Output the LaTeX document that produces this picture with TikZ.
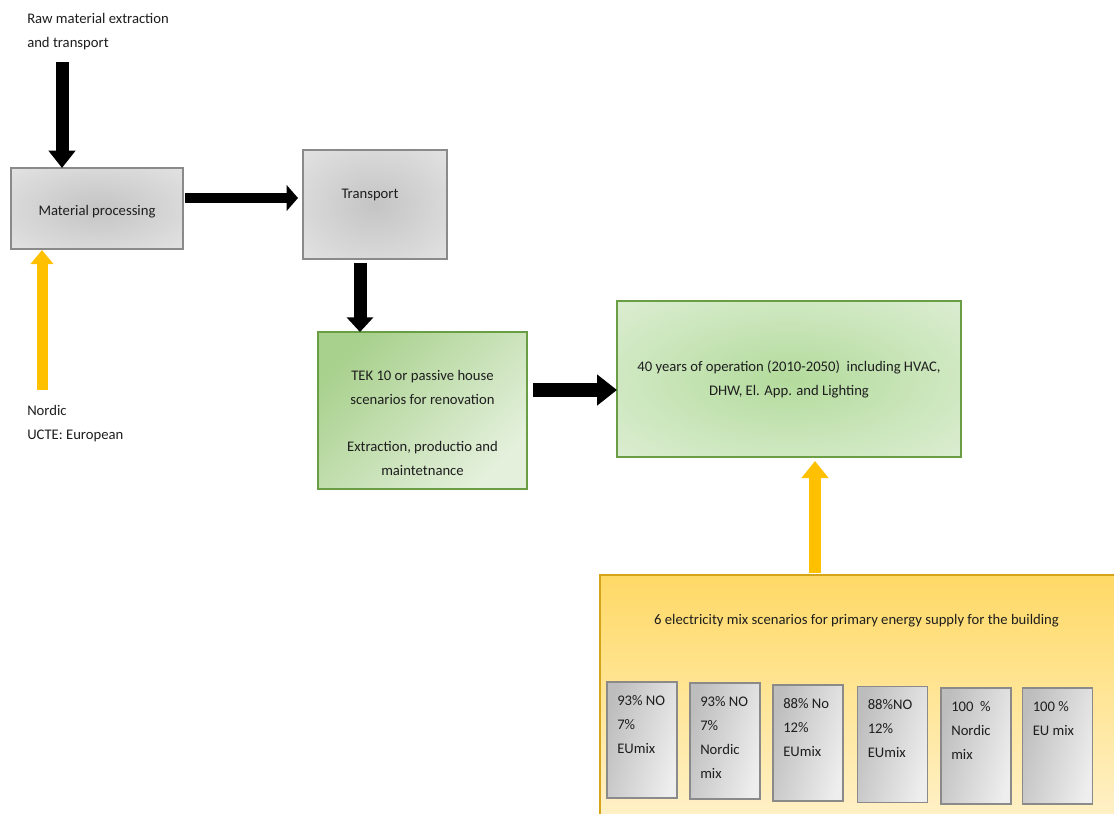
\documentclass[tikz,border=0pt]{standalone}
\usepackage{fontspec}
\setmainfont{Carlito}
\usetikzlibrary{arrows.meta}
\definecolor{grayedge}{HTML}{8A8A8A}
\definecolor{grayin}{HTML}{C4C4C4}
\definecolor{grayout}{HTML}{EBEBEB}
\definecolor{greenedge}{HTML}{6A9E45}
\definecolor{tekA}{HTML}{A9D18E}
\definecolor{tekB}{HTML}{E4F0DC}
\definecolor{opin}{HTML}{B3DB9C}
\definecolor{opout}{HTML}{E8F3E2}
\definecolor{yeledge}{HTML}{D6A418}
\definecolor{yeltop}{HTML}{FFD966}
\definecolor{yelbot}{HTML}{FFF2CC}
\definecolor{smallA}{HTML}{BDBDBD}
\definecolor{smallB}{HTML}{EEEEEE}
\definecolor{amber}{HTML}{FFC000}
\definecolor{txt}{HTML}{1E1E1E}
\pgfdeclareradialshading{grayrad}{\pgfpoint{0bp}{0bp}}{color(0bp)=(grayin); color(46bp)=(grayout); color(50bp)=(grayout)}
\pgfdeclareradialshading{greenrad}{\pgfpoint{0bp}{0bp}}{color(0bp)=(opin); color(46bp)=(opout); color(50bp)=(opout)}
\tikzset{
  box/.style={draw, inner sep=0pt, outer sep=0pt, line width=0.9pt},
  graybox/.style={box, draw=grayedge, shade, shading=grayrad},
  tekbox/.style={box, draw=greenedge, top color=tekA, bottom color=tekB, shading angle=45},
  opbox/.style={box, draw=greenedge, shade, shading=greenrad},
  yelbox/.style={box, draw=yeledge, top color=yeltop, bottom color=yelbot},
  smallbox/.style={box, draw=grayedge, left color=smallA, right color=smallB, shading angle=75,
    minimum width=52.5pt, minimum height=87pt},
  smalltext/.style={anchor=north west, inner sep=0pt, xshift=7.5pt, yshift=-9.75pt, align=left},
  plain/.style={inner sep=0pt, align=left},
  barrow/.style n args={4}{draw=#4, line width=#1, -{Triangle[width=#2,length=#3]}}
}
\begin{document}
\begin{tikzpicture}[x=0.75pt,y=-0.75pt, font=\fontsize{11}{18}\selectfont, every node/.append style={text=txt}]
\useasboundingbox (0,0) rectangle (1114,814);
\fill[white] (0,0) rectangle (1114,814);
\clip (0,0) rectangle (1114,814);

% boxes
\node[graybox, minimum width=129pt, minimum height=60.75pt,
  label={[yshift=-2.5pt]center:Material processing}] (mp) at (97,208.5) {};
\node[graybox, minimum width=108pt, minimum height=81.75pt,
  label={[xshift=-3.75pt, yshift=7.5pt]center:Transport}] (tr) at (375,204.5) {};
\node[tekbox, minimum width=156.75pt, minimum height=117.75pt,
  label={[align=center, yshift=-9.5pt]center:{TEK 10 or passive house\\scenarios for renovation\\[17.5pt]Extraction, productio and\\maintetnance}}] (tek) at (422.5,410.5) {};
\node[opbox, minimum width=258pt, minimum height=117pt, align=center] (op) at (789,379)
  {40 years of operation (2010-2050)~ including HVAC,\\DHW, El. App. and Lighting};
\node[yelbox, minimum width=390pt, minimum height=191.25pt] (yel) at (860,702.5) {};
\node[plain] (yeltitle) at (856.5,621) {6 electricity mix scenarios for primary energy supply for the building};

% small scenario boxes
\node[smallbox, label={[smalltext]north west:{93\% NO\\7\%\\EUmix}}] (s1) at (642,740) {};
\node[smallbox, label={[smalltext]north west:{93\% NO\\7\%\\Nordic\\mix}}] (s2) at (725,741) {};
\node[smallbox, label={[smalltext]north west:{88\% No\\12\%\\EUmix}}] (s3) at (808,743) {};
\node[smallbox, label={[smalltext]north west:{88\%NO\\12\%\\EUmix}}] (s4) at (892.5,744.5) {};
\node[smallbox, label={[smalltext]north west:{100~ \%\\Nordic\\mix}}] (s5) at (976,746) {};
\node[smallbox, label={[smalltext]north west:{100 \%\\EU mix}}] (s6) at (1057.5,746) {};

% free texts
\node[plain, anchor=north west] (raw) at (27,13) {Raw material extraction\\and transport};
\node[plain, anchor=north west] (nordic) at (27,405) {Nordic\\UCTE: European};

% connectors
\coordinate (rawtail) at (62,62);
\draw[barrow={9.75pt}{19.5pt}{13pt}{black}] (rawtail) -- (rawtail |- mp.north);
\draw[barrow={8pt}{19pt}{8.5pt}{black}, shorten <=1.5pt, shorten >=3.75pt] (mp.east |- 0,198) -- (tr.west |- 0,198);
\draw[barrow={9.75pt}{19.5pt}{11pt}{black}, shorten <=3pt] (tr.south -| 360,0) -- (tek.north -| 360,0);
\draw[barrow={10.5pt}{22.5pt}{15pt}{black}, shorten <=4.5pt] (tek.east |- 0,390) -- (op.west |- 0,390);
\draw[barrow={9pt}{19.5pt}{12.75pt}{amber}, shorten <=1.5pt, shorten >=3pt] (yel.north -| 815,0) -- (op.south -| 815,0);
\coordinate (nordtail) at (42,390);
\draw[barrow={8.25pt}{16.5pt}{10.5pt}{amber}, shorten >=0.75pt] (nordtail) -- (nordtail |- mp.south);
\end{tikzpicture}
\end{document}
